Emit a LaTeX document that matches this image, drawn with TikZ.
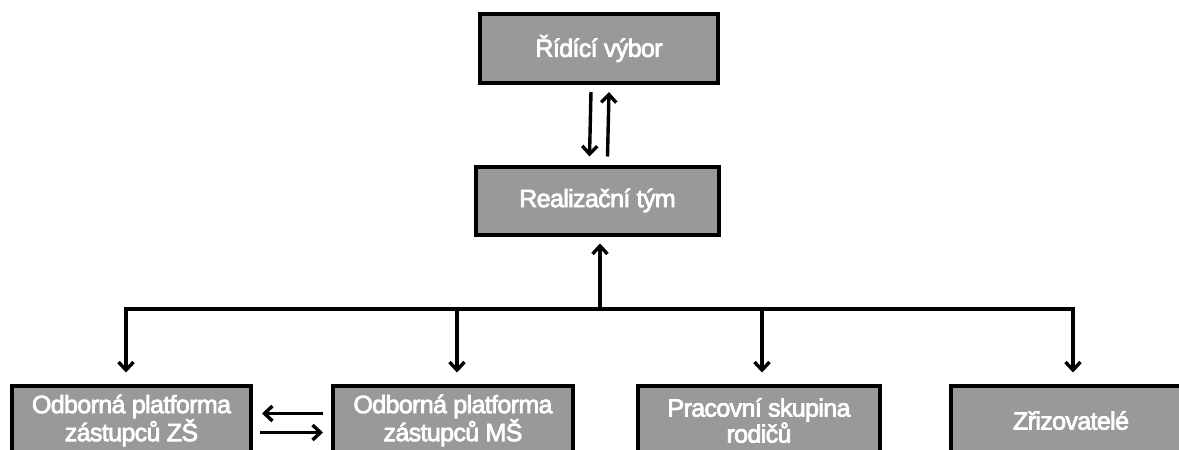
\documentclass[tikz,border=0pt]{standalone}
\usepackage{fontspec}
\setmainfont{Liberation Sans}[FakeBold=3,LetterSpace=-2.5]
\usetikzlibrary{arrows.meta}
\definecolor{boxgray}{HTML}{999999}
\tikzset{
  orgbox/.style={draw=black, line width=4pt, fill=boxgray, text=white,
    minimum width=#1, minimum height=69pt, inner sep=0pt, align=center,
    font=\fontsize{25}{26}\selectfont},
  orgbox/.default=240pt,
  conn/.style={line width=3.4pt, line cap=butt, -{Straight Barb[length=8pt,width=15pt,line width=3.4pt]}},
  plain/.style={line width=3.4pt}
}
\begin{document}
\begin{tikzpicture}[x=1pt,y=-1pt]
\useasboundingbox (0,0) rectangle (1179,450);
\clip (0,0) rectangle (1179,450);
\node[orgbox=238pt] (rv) at (599,48.5) {Řídící výbor};
\node[orgbox=243pt, minimum height=68pt] (rt) at (597.5,200.5) {Realizační tým};
\node[orgbox=239pt, minimum height=70pt] (zs) at (131.5,420.5) {Odborná platforma\\zástupců ZŠ};
\node[orgbox=240pt, minimum height=70pt] (ms) at (453,420.5) {Odborná platforma\\zástupců MŠ};
\node[orgbox=242pt, minimum height=70pt] (ps) at (759,420.5) {Pracovní skupina\\rodičů};
\node[orgbox=240pt, minimum height=70pt] (zr) at (1071,420.5) {Zřizovatelé};
% between top and realization team
\draw[conn] ([xshift=-8pt,yshift=-7pt]rv.south) -- ([xshift=-8pt,yshift=8pt]rt.north);
\draw[conn] ([xshift=10pt,yshift=8pt]rt.north) -- ([xshift=10pt,yshift=-7pt]rv.south);
% distribution bus
\coordinate (hub) at (600,309);
\coordinate (bl) at (126,309);
\coordinate (br) at (1073,309);
\coordinate (b2) at (457,309);
\coordinate (b3) at (762,309);
\draw[conn] (hub) -- ([yshift=-7pt]rt.south -| hub);
\draw[plain, line cap=rect] (bl) -- (br);
\draw[conn] (br) -- ([yshift=11pt]zr.north -| br);
\draw[conn] (bl) -- ([yshift=11pt]zs.north -| bl);
\draw[conn] (b2) -- ([yshift=11pt]ms.north -| b2);
\draw[conn] (b3) -- ([yshift=11pt]ps.north -| b3);
% between the two platforms
\draw[conn] ([xshift=-8pt,yshift=7pt]ms.west) -- ([xshift=9pt,yshift=7pt]zs.east);
\draw[conn] ([xshift=7pt,yshift=-12pt]zs.east) -- ([xshift=-8pt,yshift=-12pt]ms.west);
\end{tikzpicture}
\end{document}
